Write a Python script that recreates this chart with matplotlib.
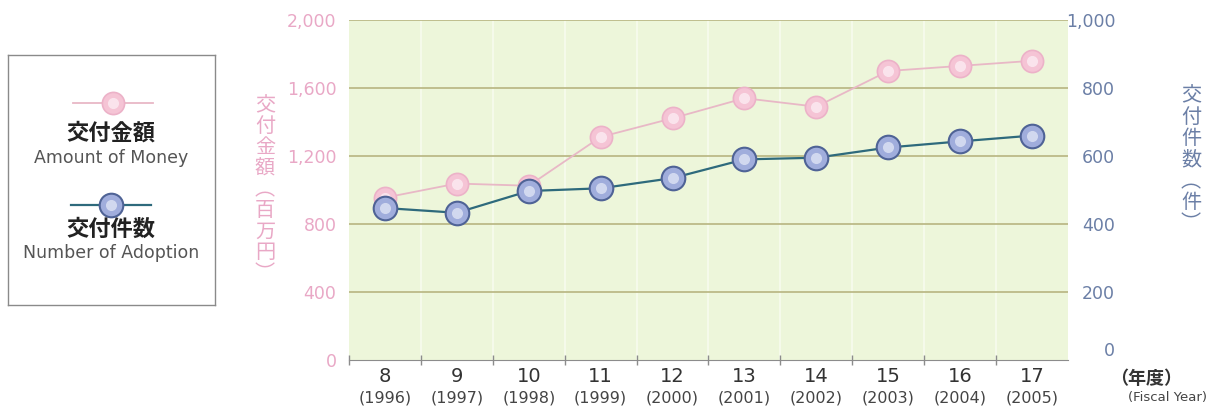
import matplotlib.pyplot as plt
import matplotlib.transforms as mtransforms

plt.rcParams['font.family'] = ['Noto Sans CJK JP', 'DejaVu Sans']

fiscal_years = ['8', '9', '10', '11', '12', '13', '14', '15', '16', '17']
western_years = ['(1996)', '(1997)', '(1998)', '(1999)', '(2000)',
                 '(2001)', '(2002)', '(2003)', '(2004)', '(2005)']
amount = [955, 1038, 1025, 1312, 1422, 1540, 1490, 1700, 1730, 1760]   # 百万円
adoption = [447, 433, 497, 505, 535, 590, 595, 625, 643, 660]         # 件

pink = '#e9a8c6'
pink_line = '#e8b8c6'
blue_text = '#6b7fa6'
blue_line = '#2e6a7c'

fig = plt.figure(figsize=(12.17, 4.13), dpi=100)
ax = fig.add_axes([349/1217, 1 - 360/413, (1068 - 349)/1217, 340/413])
ax2 = ax.twinx()
ax.set_zorder(2)
ax2.set_zorder(1)

x = list(range(len(fiscal_years)))

ax.set_facecolor('#edf6da')
ax.set_xlim(-0.5, len(x) - 0.5)
ax.set_ylim(0, 2000)
ax2.set_ylim(0, 1000)

# grid: olive horizontals, faint white verticals between years
for v in [400, 800, 1200, 1600, 2000]:
    ax.axhline(v, color='#bcba88', lw=1.3, zorder=1)
for b in range(1, len(x)):
    ax.axvline(b - 0.5, color='#f7fbee', lw=1.2, zorder=0.5)

ax.plot(x, amount, color=pink_line, lw=1.3, zorder=3)
ax.plot(x, amount, 'o', ms=16, mfc='#f5c4d5', mec='#ecb2c8', mew=1.2, zorder=3)
ax.plot(x, amount, 'o', ms=8, mfc='#fcecf2', mec='none', alpha=0.8, zorder=3)

adoption_scaled = [v * 2 for v in adoption]
ax.plot(x, adoption_scaled, color=blue_line, lw=1.6, zorder=4)
ax.plot(x, adoption_scaled, 'o', ms=17, mfc='#a0addc', mec='#4f6396', mew=1.5, zorder=4)
ax.plot(x, adoption_scaled, 'o', ms=8, mfc='#e2e7f6', mec='none', alpha=0.75, zorder=4)

for s in ['top', 'left', 'right']:
    ax.spines[s].set_visible(False)
    ax2.spines[s].set_visible(False)
ax.spines['bottom'].set_color('#8c8c8c')
ax2.spines['bottom'].set_visible(False)

ax.set_yticks([0, 400, 800, 1200, 1600, 2000])
ax.set_yticklabels(['0', '400', '800', '1,200', '1,600', '2,000'])
ax.tick_params(axis='y', length=0, pad=9, labelsize=12.5, labelcolor=pink)
for lbl in ax.get_yticklabels():
    lbl.set_family(['DejaVu Sans'])

ax2.set_yticks([0, 200, 400, 600, 800, 1000])
ax2.set_yticklabels(['0', '200', '400', '600', '800', '1,000'])
ax2.tick_params(axis='y', length=0, pad=34, labelsize=12.5, labelcolor=blue_text)
for lbl in ax2.get_yticklabels():
    lbl.set_horizontalalignment('right')
    lbl.set_family(['DejaVu Sans'])
    if lbl.get_text() == '0':
        lbl.set_verticalalignment('bottom')

ax.set_xticks(x)
ax.set_xticklabels(fiscal_years)
ax.tick_params(axis='x', length=0, pad=5, labelsize=14, labelcolor='#333333')
for lbl in ax.get_xticklabels():
    lbl.set_family(['DejaVu Sans'])
ax.set_xticks([b - 0.5 for b in range(len(x))], minor=True)
ax.tick_params(axis='x', which='minor', length=7, width=1, color='#8c8c8c', direction='inout')

trans = mtransforms.blended_transform_factory(ax.transData, ax.transAxes)
for i, yr in enumerate(western_years):
    ax.text(i, -0.113, yr, transform=trans, ha='center', va='center',
            fontsize=11.5, color='#444444', family=['DejaVu Sans'])

fig.text(1146/1217, 1 - 379/413, '（年度）', ha='center', va='center',
         fontsize=13, color='#333333', weight='bold')
fig.text(1168/1217, 1 - 398/413, '(Fiscal Year)', ha='center', va='center',
         fontsize=9.5, color='#444444', family=['DejaVu Sans'])

# vertical axis titles
fig.text(265/1217, 1 - 190/413, '\n'.join('交付金額︵百万円︶'), ha='center', va='center',
         fontsize=14.5, color=pink, linespacing=1.0)
fig.text(1191/1217, 1 - 160/413, '\n'.join('交付件数︵件︶'), ha='center', va='center',
         fontsize=14.5, color=blue_text, linespacing=1.03)

# legend box
lax = fig.add_axes([8/1217, 1 - 305/413, 207/1217, 250/413])
lax.set_xlim(0, 207)
lax.set_ylim(250, 0)
lax.set_xticks([])
lax.set_yticks([])
for s in lax.spines.values():
    s.set_color('#8a8a8a')
    s.set_linewidth(1)
lax.plot([65, 145], [48, 48], color=pink_line, lw=1.3)
lax.plot([105], [48], 'o', ms=16, mfc='#f5c4d5', mec='#ecb2c8', mew=1.2)
lax.plot([105], [48], 'o', ms=8, mfc='#fcecf2', mec='none', alpha=0.8)
lax.text(103, 78, '交付金額', ha='center', va='center', fontsize=16, weight='bold', color='#222222')
lax.text(103, 103, 'Amount of Money', ha='center', va='center', fontsize=12.5,
         color='#555555', family=['DejaVu Sans'])
lax.plot([63, 143], [150, 150], color=blue_line, lw=1.6)
lax.plot([103], [150], 'o', ms=17, mfc='#a0addc', mec='#4f6396', mew=1.5)
lax.plot([103], [150], 'o', ms=8, mfc='#e2e7f6', mec='none', alpha=0.75)
lax.text(103, 174, '交付件数', ha='center', va='center', fontsize=16, weight='bold', color='#222222')
lax.text(103, 198, 'Number of Adoption', ha='center', va='center', fontsize=12.5,
         color='#555555', family=['DejaVu Sans'])

fig.savefig('out.png', dpi=100)
